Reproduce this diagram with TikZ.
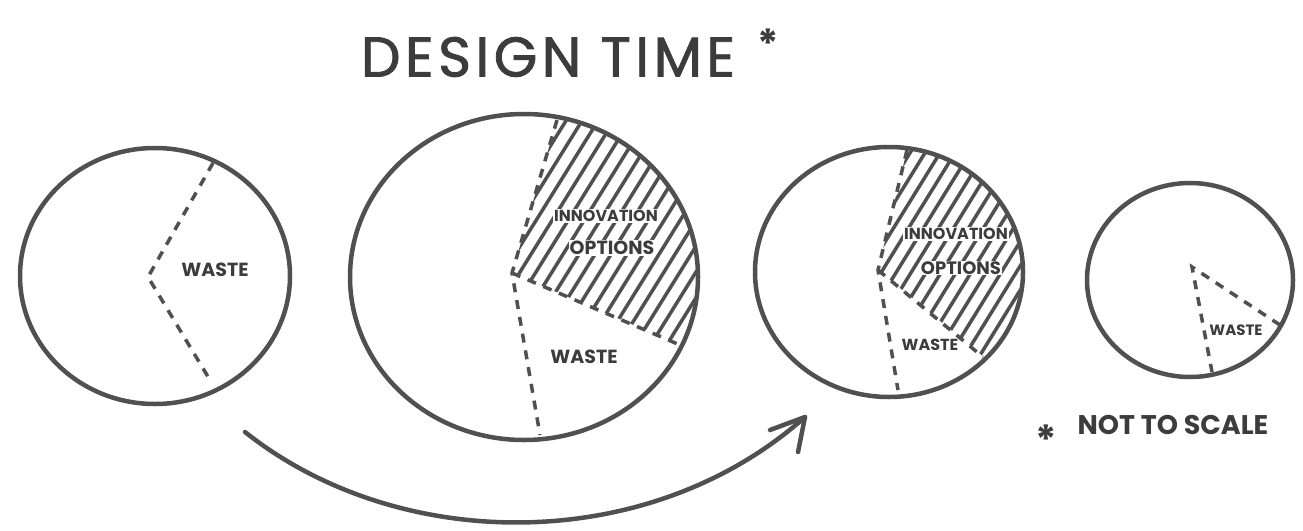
\documentclass[tikz,border=0pt]{standalone}
\usepackage{fontspec}
\setmainfont{Poppins}
\newfontfamily\titlefont[LetterSpace=8, FakeBold=1.5]{Poppins}
\usepackage{xcolor}
\usepackage{tikz}
\usetikzlibrary{calc}

\definecolor{pen}{HTML}{505050}
\definecolor{ink}{HTML}{3C3C3C}

\tikzset{
    rim/.style={draw=pen, line width=4.5pt, line cap=round, line join=round},
    cut/.style={draw=pen, line width=3.5pt, dash pattern=on 9pt off 8pt},
    hatch/.style={draw=pen, line width=3.5pt},
    lbl/.style={text=ink, inner sep=1pt, font=\bfseries\fontsize{#1}{#1}\selectfont},
    lbl/.default=15
}

\begin{document}
\begin{tikzpicture}[x=1pt, y=-1pt]
    \useasboundingbox (0,0) rectangle (1303,530);

    % 1. Tieu de
    \node[text=ink, font=\titlefont\fontsize{56}{56}\selectfont] (title) at (548,57) {DESIGN TIME};
    \node[lbl=40] (star) at (768,44) {*};

    % 2. Hinh tron thu nhat
    \coordinate (ca) at (155,276);
    \coordinate (pa) at (148,277);
    \draw[rim] (ca) ellipse [x radius=135pt, y radius=128pt];
    \draw[cut] (213,163) -- (pa) -- (210,380);
    \node[lbl=19] (wastea) at (215,270) {WASTE};

    % 3. Hinh tron thu hai
    \coordinate (cb) at (524,277);
    \coordinate (pb) at (512,273);
    \begin{scope}
        \clip (cb) ellipse [x radius=172pt, y radius=161pt];
        \clip (pb) -- (557,120) -- (560,60) -- (760,60) -- (760,380) -- (685,347) -- cycle;
        \foreach \s in {300,316,...,800}
            \draw[hatch] (\s,420) -- ++(230,-370);
    \end{scope}
    \draw[rim] (cb) ellipse [x radius=174pt, y radius=163pt];
    \draw[cut] (557,120) -- (pb) -- (540,435);
    \draw[cut] (pb) -- (680,345);
    \node[lbl=16, fill=white] (innb) at (606,216) {INNOVATION};
    \node[lbl=19, fill=white] (optb) at (612,248) {OPTIONS};
    \node[lbl=19] (wasteb) at (584,357) {WASTE};

    % 4. Hinh tron thu ba
    \coordinate (cc) at (889,272);
    \coordinate (pc) at (878,270);
    \begin{scope}
        \clip (cc) ellipse [x radius=132pt, y radius=123pt];
        \clip (pc) -- (907,150) -- (910,100) -- (1060,100) -- (1060,420) -- (990,362) -- cycle;
        \foreach \s in {700,715,...,1150}
            \draw[hatch] (\s,420) -- ++(210,-340);
    \end{scope}
    \draw[rim] (cc) ellipse [x radius=134pt, y radius=125pt];
    \draw[cut] (907,150) -- (pc) -- (898,390);
    \draw[cut] (pc) -- (983,357);
    \node[lbl=16, fill=white] (innc) at (956,234) {INNOVATION};
    \node[lbl=18, fill=white] (optc) at (961,268) {OPTIONS};
    \node[lbl=16] (wastec) at (930,345) {WASTE};

    % 5. Hinh tron thu tu
    \coordinate (cd) at (1190,280);
    \coordinate (pd) at (1192,267);
    \draw[rim] (cd) ellipse [x radius=103pt, y radius=97pt];
    \draw[cut] (1280,325) -- (pd) -- (1212,372);
    \node[lbl=15] (wasted) at (1236,330) {WASTE};

    % 6. Ghi chu
    \node[lbl=27] (note) at (1173,425) {NOT TO SCALE};
    \node[lbl=40] (notestar) at (1046,440) {*};

    % 7. Mui ten
    \coordinate (arrstart) at (245,432);
    \coordinate (arrtip) at (805,417);
    \coordinate (winga) at (770,430);
    \coordinate (wingb) at (798,452);
    \draw[rim] (arrstart) .. controls (400,555) and (650,555) .. (arrtip);
    \draw[rim] (winga) -- (arrtip) -- (wingb);
\end{tikzpicture}
\end{document}
